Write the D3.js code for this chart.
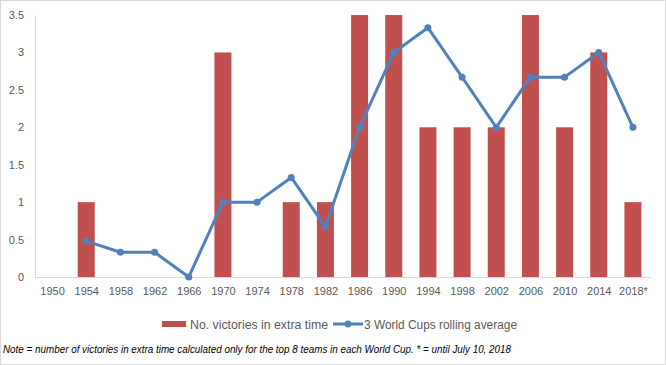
<!DOCTYPE html>
<html><head><meta charset="utf-8">
<script src="https://cdn.jsdelivr.net/npm/d3@7"></script>
<style>body{margin:0;background:#fff}svg{display:block}</style>
</head><body><svg id="c" width="666" height="365"></svg>
<script>
const years = ["1950","1954","1958","1962","1966","1970","1974","1978","1982","1986","1990","1994","1998","2002","2006","2010","2014","2018*"];
const victories = [0,1,0,0,0,3,0,1,1,4,4,2,2,2,4,2,3,1];
const rolling = [null,0.48,0.33,0.33,0,1,1,1.33,0.67,2,3,3.33,2.67,2,2.67,2.67,3,2];
const yTicks = [0,0.5,1,1.5,2,2.5,3,3.5];
const seriesNames = ["No. victories in extra time","3 World Cups rolling average"];
const note = "Note = number of victories in extra time calculated only for the top 8 teams in each World Cup. * = until July 10, 2018";

const svg = d3.select("#c");
const W=666,H=365;
const m={l:35,r:16,t:15,b:88};
const font="'Liberation Sans', Arial, sans-serif";
const grey="#595959", axisCol="#d9d9d9", red="#C0504D", blue="#4F81BD";

svg.append("rect").attr("x",0.5).attr("y",0.5).attr("width",W-1).attr("height",H-1)
  .attr("fill","#fff").attr("stroke","#d9d9d9");

const x=d3.scaleBand().domain(years).range([m.l,W-m.r]).paddingInner(0.5).paddingOuter(0.25);
const xc=d3.scalePoint().domain(years).range([m.l,W-m.r]).padding(0.5);
const y=d3.scaleLinear().domain([0,3.5]).range([H-m.b,m.t]);

svg.append("defs").append("clipPath").attr("id","pc").append("rect")
  .attr("x",m.l).attr("y",m.t).attr("width",W-m.l-m.r).attr("height",H-m.b-m.t);

// bars
svg.append("g").attr("clip-path","url(#pc)").selectAll("rect").data(years).join("rect")
  .attr("x",d=>xc(d)-8.5).attr("width",17)
  .attr("y",(d,i)=>y(victories[i])).attr("height",(d,i)=>y(0)-y(victories[i]))
  .attr("fill",red);

// axes
const ya=svg.append("g").attr("transform",`translate(${m.l},0)`)
  .call(d3.axisLeft(y).tickValues(yTicks).tickSize(0).tickPadding(11).tickFormat(d3.format("")));
ya.select(".domain").attr("stroke",axisCol);
ya.selectAll("text").attr("fill",grey).attr("font-family",font).attr("font-size","11px");

const xa=svg.append("g").attr("transform",`translate(0,${y(0)})`)
  .call(d3.axisBottom(xc).tickSize(0).tickPadding(10));
xa.select(".domain").attr("stroke",axisCol);
xa.selectAll("text").attr("fill",grey).attr("font-family",font).attr("font-size","11px");

// line
const pts=years.map((d,i)=>({d,v:rolling[i]})).filter(p=>p.v!==null);
svg.append("path").datum(pts)
  .attr("d",d3.line().x(p=>xc(p.d)).y(p=>y(p.v)))
  .attr("fill","none").attr("stroke",blue).attr("stroke-width",3).attr("stroke-linejoin","round");
svg.append("g").selectAll("circle").data(pts).join("circle")
  .attr("cx",p=>xc(p.d)).attr("cy",p=>y(p.v)).attr("r",3.5).attr("fill",blue);

// legend
const lg=svg.append("g");
lg.append("rect").attr("x",162).attr("y",321).attr("width",24).attr("height",6).attr("fill",red);
lg.append("text").attr("x",190).attr("y",328.5).text(seriesNames[0])
  .attr("font-family",font).attr("font-size","12.5px").attr("fill",grey)
  .attr("textLength",138).attr("lengthAdjust","spacingAndGlyphs");
lg.append("line").attr("x1",333).attr("x2",363).attr("y1",324).attr("y2",324).attr("stroke",blue).attr("stroke-width",3);
lg.append("circle").attr("cx",348).attr("cy",324).attr("r",3.5).attr("fill",blue);
lg.append("text").attr("x",364).attr("y",328.5).text(seriesNames[1])
  .attr("font-family",font).attr("font-size","12.5px").attr("fill",grey)
  .attr("textLength",153).attr("lengthAdjust","spacingAndGlyphs");

svg.append("text").attr("x",3).attr("y",353).text(note)
  .attr("font-family",font).attr("font-size","10px").attr("font-style","italic").attr("fill","#000")
  .attr("textLength",508).attr("lengthAdjust","spacingAndGlyphs");
</script></body></html>
